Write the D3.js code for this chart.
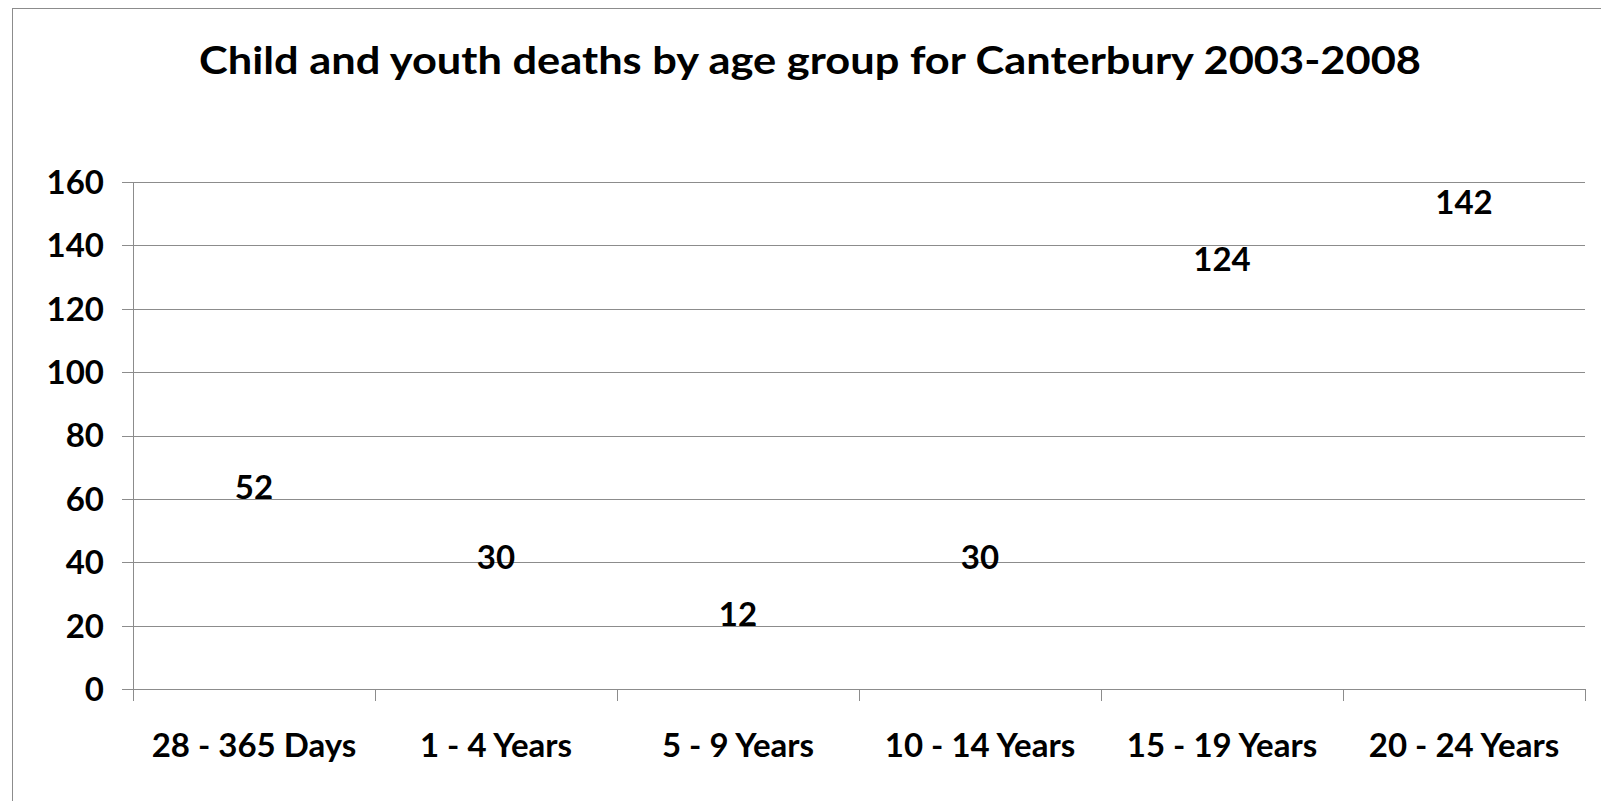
<!DOCTYPE html>
<html>
<head>
<meta charset="utf-8">
<script src="https://cdn.jsdelivr.net/npm/d3@7/dist/d3.min.js"></script>
<style>
  body { margin: 0; background: #fff; }
  svg text { font-family: Lato, "Open Sans", sans-serif; font-weight: 700; fill: #000; }
  .grid line, .axisline { stroke: #8c8c8c; stroke-width: 1; shape-rendering: crispEdges; }
</style>
</head>
<body>
<script>
// chart data
var categories = ["28 - 365 Days", "1 - 4 Years", "5 - 9 Years", "10 - 14 Years", "15 - 19 Years", "20 - 24 Years"];
var deaths     = [52, 30, 12, 30, 124, 142];
var yTicks     = [0, 20, 40, 60, 80, 100, 120, 140, 160];
var title      = "Child and youth deaths by age group for Canterbury 2003-2008";

var W = 1601, H = 801;
var margin = {left: 133, top: 182, right: 16, bottom: 112};
var width  = W - margin.left - margin.right;
var height = H - margin.top - margin.bottom;

var svg = d3.select("body").append("svg")
    .attr("width", W)
    .attr("height", H);

// chart border (runs off the right and bottom edges)
svg.append("rect")
    .attr("x", 12.5).attr("y", 8.5)
    .attr("width", W + 20).attr("height", H + 20)
    .attr("fill", "none")
    .attr("stroke", "#8c8c8c");

var t = svg.append("text")
    .attr("x", 810).attr("y", 74)
    .attr("text-anchor", "middle")
    .style("font-size", "38px")
    .text(title);
// fit title to reference width
var tl = t.node().getComputedTextLength();
if (Math.abs(tl - 1222) > 4) t.attr("textLength", 1222).attr("lengthAdjust", "spacingAndGlyphs");

var g = svg.append("g")
    .attr("transform", "translate(" + margin.left + "," + margin.top + ")");

var x = d3.scaleBand().domain(categories).range([0, width]).paddingInner(0).paddingOuter(0);
var y = d3.scaleLinear().domain([0, 160]).range([height, 0]);

// horizontal gridlines + y ticks
g.append("g").attr("class", "grid")
    .call(d3.axisLeft(y).tickValues(yTicks).tickSize(-width).tickFormat(""))
    .call(function(s) { s.select(".domain").remove(); })
    .selectAll("line")
    .attr("x1", -11);

// y axis line, extends down to x tick length
g.append("line").attr("class", "axisline")
    .attr("x1", 0.5).attr("x2", 0.5)
    .attr("y1", 0).attr("y2", height + 12);

// y tick labels
g.append("g").selectAll("text")
    .data(yTicks)
    .join("text")
    .attr("x", -29)
    .attr("y", function(d) { return y(d); })
    .attr("dy", "0.36em")
    .attr("text-anchor", "end")
    .style("font-size", "33px")
    .text(function(d) { return d; });

// x ticks at the category boundaries
var bounds = categories.map(function(c) { return x(c); }).concat([width]);
g.append("g").selectAll("line")
    .data(bounds)
    .join("line")
    .attr("class", "axisline")
    .attr("x1", function(d) { return Math.round(d) + 0.5; })
    .attr("x2", function(d) { return Math.round(d) + 0.5; })
    .attr("y1", height).attr("y2", height + 12);

// category labels
g.append("g").selectAll("text")
    .data(categories)
    .join("text")
    .attr("x", function(d) { return x(d) + x.bandwidth() / 2; })
    .attr("y", height + 68)
    .attr("text-anchor", "middle")
    .style("font-size", "33px")
    .text(function(d) { return d; });

// value labels (bars are not drawn in the reference, only the labels)
g.append("g").selectAll("text")
    .data(deaths)
    .join("text")
    .attr("x", function(d, i) { return x(categories[i]) + x.bandwidth() / 2; })
    .attr("y", function(d) { return y(d) - 25; })
    .attr("text-anchor", "middle")
    .style("font-size", "33px")
    .text(function(d) { return d; });
</script>
</body>
</html>
